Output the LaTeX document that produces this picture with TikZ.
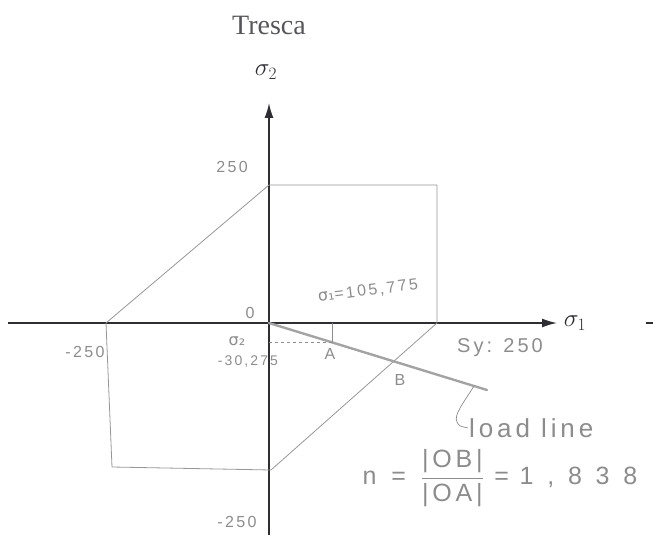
\documentclass[tikz,border=0pt]{standalone}
\usepackage{fontspec}
\setmainfont{Liberation Serif}
\newfontfamily\handfont[LetterSpace=15]{Liberation Sans}
\newfontfamily\handwide[LetterSpace=55]{Liberation Sans}
\newfontfamily\handsym{DejaVu Sans}
\usepackage{amsmath,amssymb}
\usetikzlibrary{shapes,arrows.meta,positioning,calc}
\definecolor{pencilgray}{RGB}{140,140,140}
\definecolor{axisgray}{RGB}{45,45,50}

\begin{document}
\begin{tikzpicture}[x=1pt,y=1pt,
    axis/.style={line width=1.6pt, draw=axisgray, -{Latex[length=15pt,width=9pt]}},
    yield/.style={line width=0.8pt, draw=pencilgray!90, line join=round},
    hand/.style={text=pencilgray, font=\handfont\fontsize{16}{16}\selectfont, inner sep=1pt},
    pencil/.style={line width=0.7pt, draw=pencilgray}]
    \useasboundingbox (-269,-226) rectangle (384,323);

    % axes
    \coordinate (o) at (0,0);
    \coordinate (xl) at (-261,0);
    \coordinate (xr) at (288,0);
    \coordinate (yb) at (0,-212);
    \coordinate (yt) at (0,220);
    \draw[axis] (xl) -- (xr);
    \draw[axis] (yb) -- (yt);
    \node[text=axisgray, font=\fontsize{24}{24}\selectfont] (s1) at (306,0) {$\sigma_1$};
    \node[text=axisgray, font=\fontsize{24}{24}\selectfont] (s2) at (-3,251) {$\sigma_2$};
    \node[text=axisgray!80, font=\fontsize{28}{28}\selectfont] (title) at (0,298) {Tresca};
    \coordinate (dl) at (377,0);
    \coordinate (dr) at (384,0);
    \draw[line width=1.6pt, axisgray] (dl) -- (dr);

    % yield hexagon
    \coordinate (h1) at (0,138);
    \coordinate (h2) at (168,138);
    \coordinate (h3) at (168,0);
    \coordinate (h4) at (2,-147);
    \coordinate (h5) at (-157,-144);
    \coordinate (h6) at (-163,0);
    \draw[yield] (h1) -- (h2) -- (h3) -- (h4) -- (h5) -- (h6) -- cycle;

    % load line
    \coordinate (ld) at (218,-67);
    \draw[line width=2.4pt, draw=pencilgray!80, line cap=round] (o) -- (ld);
    \coordinate (a) at ($(o)!0.289!(ld)$);
    \coordinate (b) at (intersection of o--ld and h3--h4);
    \draw[pencil] (a) -- (a |- o);
    \draw[pencil, dashed] (o |- a) -- (a);

    % labels
    \node[hand] (lo) at (-19,10) {0};
    \node[hand] (lp) at (-37,156) {250};
    \node[hand] (ln) at (-184,-29) {-250};
    \node[hand] (lb) at (-32,-199) {-250};
    \node[hand, rotate=7] (ls1) at (99,32) {{\handsym σ₁}=105,775};
    \node[hand] (ls2) at (-32,-18) {\handsym σ₂};
    \node[hand, font=\handfont\fontsize{14}{14}\selectfont] (lv2) at (-21,-39) {-30,275};
    \node[hand] (la) at (61,-31) {A};
    \node[hand] (lbb) at (131,-57) {B};
    \node[hand, font=\handfont\fontsize{20}{20}\selectfont] (lsy) at (231,-25) {Sy: 250};
    \node[hand, anchor=west, font=\handfont\fontsize{26}{26}\selectfont] (ll) at (199,-105) {load line};
    \coordinate (hk) at ($(o)!0.94!(ld)$);
    \draw[pencil] (hk) .. controls (196,-78) and (184,-92) .. (188,-99)
        .. controls (190,-103) .. (ll.west);
    \node[hand, font=\handfont\fontsize{25}{25}\selectfont] (nf) at (231,-155)
        {n \,=\, $\dfrac{\text{|OB|}}{\text{|OA|}}$ = {\handwide 1,838}};
\end{tikzpicture}
\end{document}
